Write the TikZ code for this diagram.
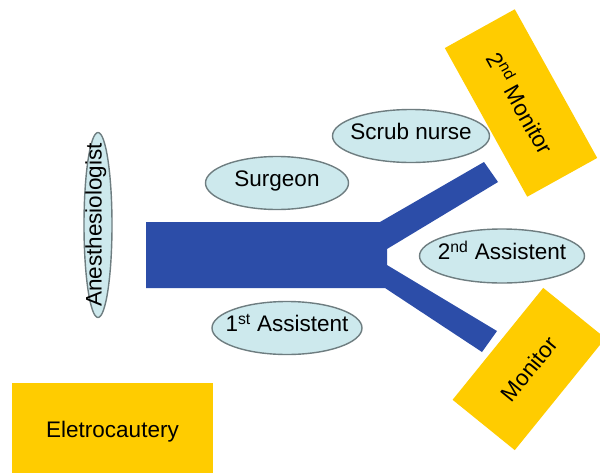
\documentclass[tikz,border=0pt]{standalone}
\usepackage{fontspec}
\setmainfont{Liberation Sans}
\usetikzlibrary{shapes.geometric}
\definecolor{barblue}{RGB}{44,77,168}
\definecolor{boxyellow}{RGB}{255,204,0}
\definecolor{ellfill}{RGB}{205,233,237}
\definecolor{ellline}{RGB}{110,125,128}
\begin{document}
\begin{tikzpicture}[x=1pt,y=-1pt,
  person/.style={ellipse,draw=ellline,line width=1.4pt,fill=ellfill,inner sep=0pt,
    text height=0.72em,text depth=0pt,font=\fontsize{22.5}{26}\selectfont},
  equip/.style={rectangle,fill=boxyellow,inner sep=0pt,font=\fontsize{22.5}{26}\selectfont}]
\useasboundingbox (0,0) rectangle (600,472);
\clip (0,0) rectangle (600,472);
\fill[white] (0,0) rectangle (600,472);
% table
\fill[barblue] (146,222) -- (380,222) -- (484,162) -- (498,182) -- (387,249) -- (387,265)
  -- (497,331) -- (482,352) -- (385,288) -- (146,288) -- cycle;
% people
\node[person,minimum width=185,minimum height=28,rotate=90] (anes) at (98,225) {\makebox[0pt]{Anesthesiologist}};
\node[person,minimum width=143,minimum height=53] (surg) at (277,183) {\makebox[0pt]{Surgeon}};
\node[person,minimum width=157,minimum height=53] (scrub) at (411,136) {\makebox[0pt]{Scrub nurse}};
\node[person,minimum width=165,minimum height=54] (asst2) at (502,256) {\makebox[0pt]{2\textsuperscript{nd} Assistent}};
\node[person,minimum width=150,minimum height=53] (asst1) at (287,328) {\makebox[0pt]{1\textsuperscript{st} Assistent}};
% equipment
\node[equip,minimum width=201,minimum height=98] (elec) at (112.5,432) {Eletrocautery};
\node[equip,minimum width=170,minimum height=80,rotate=-61] (mon2) at (521,103) {2\textsuperscript{nd} Monitor};
\node[equip,minimum width=144,minimum height=80,rotate=51] (mon) at (529,369) {Monitor};
\end{tikzpicture}
\end{document}
